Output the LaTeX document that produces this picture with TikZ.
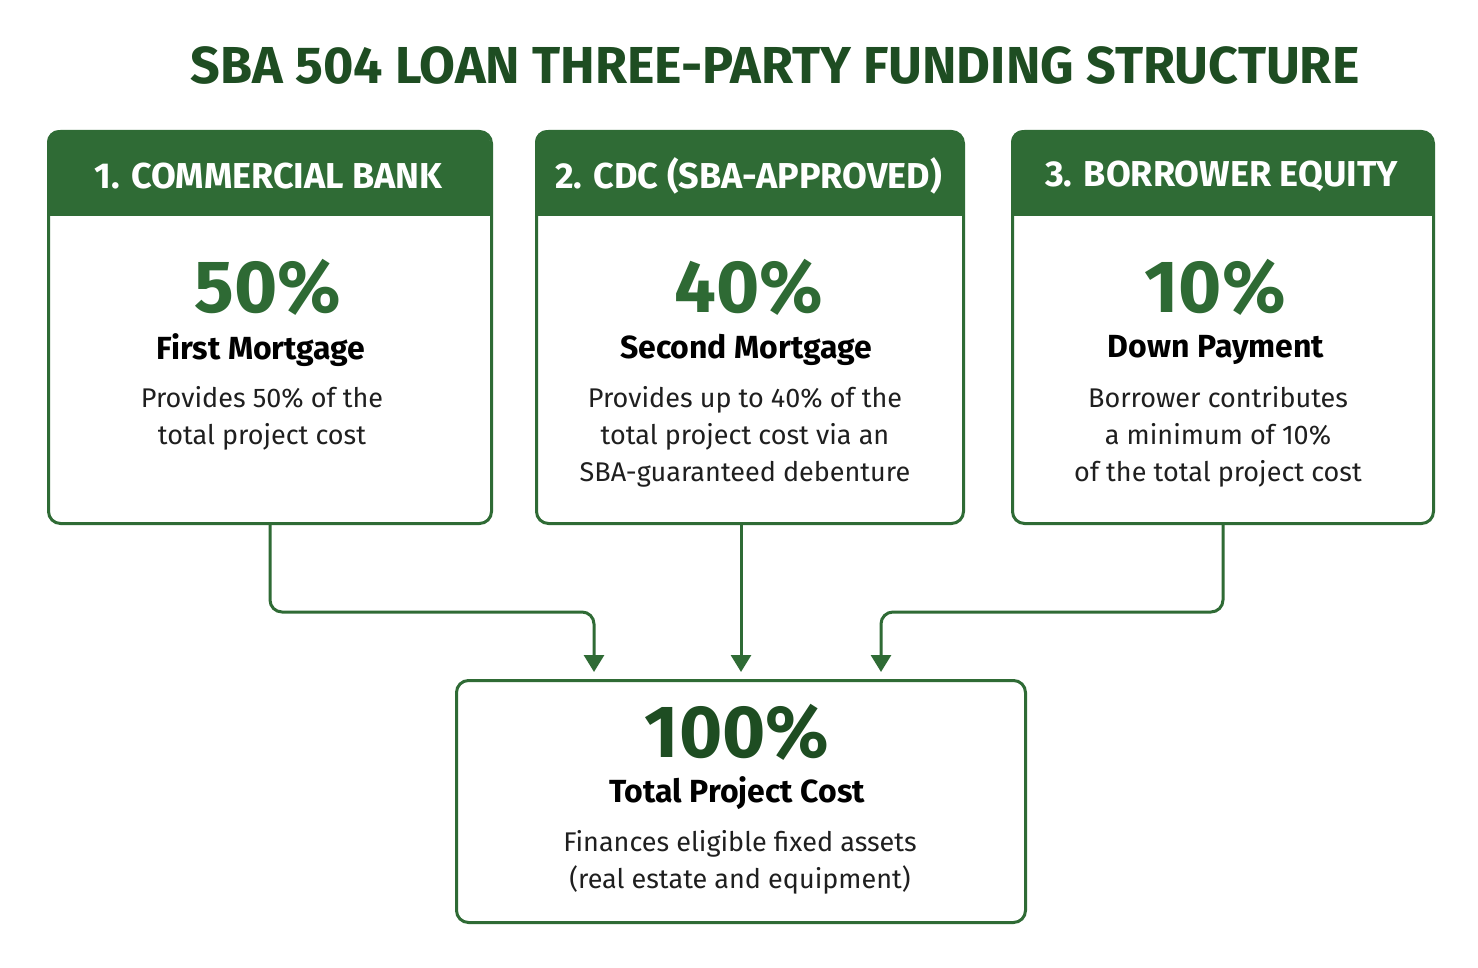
\documentclass[tikz,border=0pt]{standalone}
\usepackage{fontspec}
\setmainfont{Fira Sans}
\usetikzlibrary{arrows.meta}
\definecolor{hgreen}{HTML}{2F6B35}
\definecolor{dgreen}{HTML}{1E4D22}
\definecolor{pgreen}{HTML}{2E6A34}
\definecolor{tgray}{HTML}{1F1F1F}
\tikzset{%
    % style for the frame of a party box
    panel/.style={%
        draw=hgreen,
        line width=1.5pt,
        rounded corners=6pt,
        fill=none,
        inner sep=0pt,
        anchor=north west,
    },
    % style for the text in the header band
    headtext/.style={%
        text=white,
        font=\fontsize{18}{20}\selectfont\bfseries,
    },
    % style for the big percentages
    percent/.style={%
        text=pgreen,
        font=\fontsize{37}{40}\selectfont\bfseries,
    },
    % style for the name of the share
    share/.style={%
        text=black,
        font=\fontsize{16}{18}\selectfont\bfseries,
    },
    % style for the explaining lines
    explain/.style={%
        text=tgray,
        align=center,
        font=\fontsize{13.5}{18.5}\selectfont,
    },
    % style for the flow of money
    flow/.style={%
        draw=hgreen,
        line width=1.5pt,
        rounded corners=6pt,
        -{Triangle[width=10pt,length=8.5pt]},
        shorten >=3.5pt,
    },
}

\begin{document}
\begin{tikzpicture}[x=0.5pt,y=-0.5pt]
    % the picture is measured in pixels of the reference
    \useasboundingbox [fill=white] (0,0) rectangle (1478,968);
    % title
    \node (title) [text=dgreen, font=\fontsize{26}{30}\selectfont\bfseries]
          at (775,65) {SBA 504 LOAN THREE-PARTY FUNDING STRUCTURE};
    % the three parties
    %% name / left edge / width / header text
    \foreach \name/\x/\w/\head in {%
        bank/47/443/{1. COMMERCIAL BANK},%
        cdc/535/427/{2. CDC (SBA-APPROVED)},%
        equity/1011/421/{3. BORROWER EQUITY}} {%
        \begin{scope}
            \clip [rounded corners=6pt] (\x,130) rectangle ++(\w,392);
            \fill [hgreen] (\x,130) rectangle ++(\w,86);
        \end{scope}
        \node (\name) [panel, minimum width=\w*0.5pt, minimum height=196pt]
              at (\x,130) {};
        \node (\name-head) [headtext] at (\x+\w/2,176) {\head};
    }
    %% first party
    \node (bank-pct)  [percent] at (268,287) {50\%};
    \node (bank-name) [share]   at (261,350) {First Mortgage};
    \node (bank-text) [explain] at (262,418)
          {Provides 50\% of the\\total project cost};
    %% second party
    \node (cdc-pct)  [percent] at (749,287) {40\%};
    \node (cdc-name) [share]   at (746,350) {Second Mortgage};
    \node (cdc-text) [explain] at (745,437)
          {Provides up to 40\% of the\\total project cost via an\\SBA-guaranteed debenture};
    %% third party
    \node (equity-pct)  [percent] at (1215,287) {10\%};
    \node (equity-name) [share]   at (1216,350) {Down Payment};
    \node (equity-text) [explain] at (1218,437)
          {Borrower contributes\\a minimum of 10\%\\of the total project cost};
    % the project
    \node (total) [panel, minimum width=284.5pt, minimum height=121pt]
          at (455,679) {};
    \node (total-pct)  [percent, text=dgreen] at (737,732) {100\%};
    \node (total-name) [share]   at (737,793) {Total Project Cost};
    \node (total-text) [explain] at (740,862)
          {Finances eligible fixed assets\\(real estate and equipment)};
    % flows into the project
    \coordinate (in-bank)   at (594,679);
    \coordinate (in-equity) at (881,679);
    \draw [flow] (bank.south) -- ++(0,87) -| (in-bank);
    \draw [flow] (total.north |- cdc.south) -- (total.north);
    \draw [flow] (equity.south) -- ++(0,87) -| (in-equity);
\end{tikzpicture}
\end{document}
